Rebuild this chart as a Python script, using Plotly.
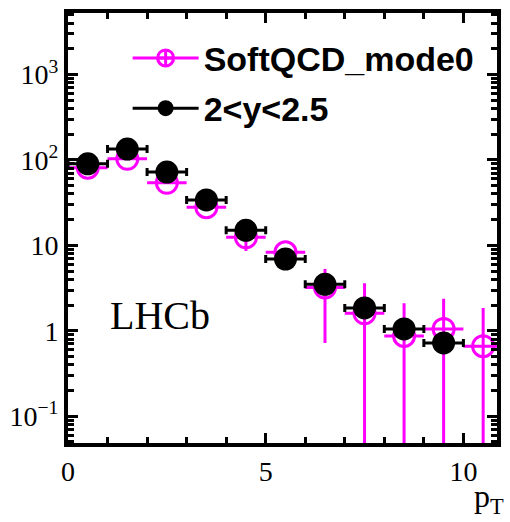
import plotly.graph_objects as go

# ---- data ----
bin_centers = [0.5, 1.5, 2.5, 3.5, 4.5, 5.5, 6.5, 7.5, 8.5, 9.5]
data_values = [90, 134, 72, 34, 15, 6.9, 3.5, 1.85, 1.05, 0.72]
bin_half_width = [0.5] * 10

mc_centers = [0.5, 1.5, 2.5, 3.5, 4.5, 5.5, 6.5, 7.5, 8.5, 9.5, 10.5]
mc_values = [81, 103, 54, 28, 12.4, 8.3, 3.2, 1.6, 0.87, 1.05, 0.66]
mc_err_plus = [0, 0, 0, 0, 0, 0, 2.1, 2.0, 1.23, 1.32, 1.19]
mc_err_minus = [0, 0, 0, 0, 3.8, 0, 2.48, 1.6, 0.87, 1.05, 0.66]
mc_half_width = [0.5] * 11

series_names = ["SoftQCD_mode0", "2<y<2.5"]
ytick_vals = [0.1, 1, 10, 100, 1000]
ytick_text = ["10<sup>\u22121</sup>", "1", "10", "10<sup>2</sup>", "10<sup>3</sup>"]
xtick_vals = [0, 5, 10]

MAG = "#ff00ff"
fig = go.Figure()

# simulation (open magenta circles)
fig.add_trace(go.Scatter(
    x=mc_centers, y=mc_values, mode="markers", showlegend=False,
    marker=dict(symbol="circle-open", size=21, color=MAG, line=dict(width=3, color=MAG)),
    error_x=dict(type="data", array=mc_half_width, color=MAG, thickness=3, width=0),
    error_y=dict(type="data", array=mc_err_plus, arrayminus=mc_err_minus, color=MAG, thickness=3, width=0),
    cliponaxis=True,
))
# data (black filled circles)
fig.add_trace(go.Scatter(
    x=bin_centers, y=data_values, mode="markers", showlegend=False,
    marker=dict(symbol="circle", size=23, color="black"),
    error_x=dict(type="data", array=bin_half_width, color="black", thickness=3, width=4),
    cliponaxis=True,
))
# legend entries
fig.add_trace(go.Scatter(
    x=[None], y=[None], mode="lines+markers", name=series_names[0], legendgroup="a",
    line=dict(color=MAG, width=3),
    marker=dict(symbol="circle-cross-open", size=18, color=MAG, line=dict(width=3, color=MAG)),
))
fig.add_trace(go.Scatter(
    x=[None], y=[None], mode="lines+markers", name=series_names[1], legendgroup="b",
    line=dict(color="black", width=3),
    marker=dict(symbol="circle", size=22, color="black"),
))

fig.add_annotation(text="LHCb", xref="paper", yref="paper", x=0.094, y=0.297,
                   xanchor="left", yanchor="middle", showarrow=False,
                   font=dict(family="Liberation Serif", size=40, color="black"))
fig.add_annotation(text="p<sub>T</sub>", xref="paper", yref="paper", x=1.022, y=-0.13,
                   xanchor="right", yanchor="middle", showarrow=False,
                   font=dict(family="Liberation Serif", size=32, color="black"))

axis_common = dict(showline=True, linecolor="black", linewidth=4, mirror="ticks",
                   ticks="inside", tickcolor="black", tickwidth=3, showgrid=False,
                   zeroline=False, tickfont=dict(family="Liberation Serif", size=28, color="black"))

fig.update_xaxes(range=[0, 10.85], tickvals=xtick_vals, ticklen=10, ticklabelstandoff=0,
                 minor=dict(dtick=1, tick0=0, ticks="inside", ticklen=6, tickwidth=3, tickcolor="black"),
                 **axis_common)
minor_y = [m * 10 ** e for e in range(-2, 4) for m in range(2, 10)]
fig.update_yaxes(type="log", range=[-1.314, 3.72], tickvals=ytick_vals, ticktext=ytick_text,
                 ticklen=10,
                 minor=dict(tickvals=minor_y, ticks="inside", ticklen=6, tickwidth=3, tickcolor="black"),
                 **axis_common)

fig.update_layout(
    width=510, height=522,
    margin=dict(l=68, r=9, t=10, b=79),
    paper_bgcolor="white", plot_bgcolor="white",
    legend=dict(x=0.139, y=0.962, xanchor="left", yanchor="top", bgcolor="rgba(0,0,0,0)",
                itemwidth=66, traceorder="grouped", tracegroupgap=3,
                font=dict(family="Liberation Sans", size=34, color="black", weight="bold")),
)

fig.write_html("out.html")
